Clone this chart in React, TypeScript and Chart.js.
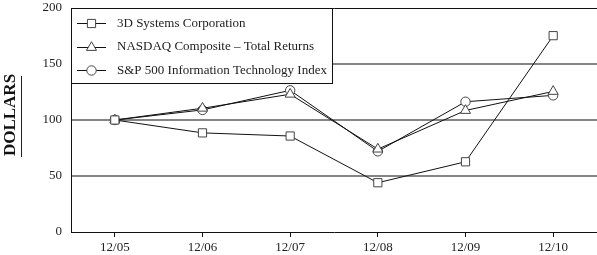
import React, { useEffect, useRef } from "react";
import { Chart, registerables } from "chart.js";

Chart.register(...registerables);

const categories = ["12/05", "12/06", "12/07", "12/08", "12/09", "12/10"];
const threeD = [100, 88.5, 85.7, 44, 62.7, 175.3];
const nasdaq = [100, 110.5, 123, 74, 108.5, 125.5];
const sp500 = [100, 109, 126.5, 72, 116.3, 122];
const seriesNames = [
  "3D Systems Corporation",
  "NASDAQ Composite \u2013 Total Returns",
  "S&P 500 Information Technology Index",
];
const yTicks = [0, 50, 100, 150, 200];
const yTitle = "DOLLARS";

const FONT = "'Liberation Serif', 'DejaVu Serif', serif";

function drawMarker(ctx: CanvasRenderingContext2D, style: string, x: number, y: number) {
  ctx.save();
  ctx.fillStyle = "#ffffff";
  ctx.strokeStyle = "#444444";
  ctx.lineWidth = 1;
  ctx.beginPath();
  if (style === "rect") {
    const s = 4.1;
    ctx.rect(x - s, y - s, 2 * s, 2 * s);
  } else if (style === "triangle") {
    const r = 5.8;
    ctx.moveTo(x, y - r);
    ctx.lineTo(x + r * Math.sin((2 * Math.PI) / 3), y + r * 0.5);
    ctx.lineTo(x - r * Math.sin((2 * Math.PI) / 3), y + r * 0.5);
    ctx.closePath();
  } else {
    ctx.arc(x, y, 4.7, 0, Math.PI * 2);
  }
  ctx.fill();
  ctx.stroke();
  ctx.restore();
}

const overlayPlugin = {
  id: "overlay",
  afterDraw(chart: any) {
    const ctx: CanvasRenderingContext2D = chart.ctx;
    const area = chart.chartArea;
    ctx.save();
    ctx.fillStyle = "#111";
    ctx.font = `bold 17px ${FONT}`;
    ctx.translate(15, 115);
    ctx.rotate(-Math.PI / 2);
    ctx.textAlign = "center";
    ctx.textBaseline = "alphabetic";
    ctx.fillText(yTitle, 0, 0);
    ctx.restore();
    ctx.save();
    ctx.strokeStyle = "#222";
    ctx.lineWidth = 1;
    ctx.beginPath();
    ctx.moveTo(21.5, 76);
    ctx.lineTo(21.5, 157);
    ctx.stroke();
    ctx.restore();

    const bx = Math.round(area.left) + 0.5;
    const by = Math.round(area.top) + 0.5;
    const bw = 261;
    const bh = 75;
    ctx.save();
    ctx.fillStyle = "#ffffff";
    ctx.fillRect(bx, by, bw, bh);
    ctx.strokeStyle = "#111";
    ctx.lineWidth = 1;
    ctx.strokeRect(bx, by, bw, bh);
    const rows = [15, 38.5, 62];
    const styles = ["rect", "triangle", "circle"];
    chart.data.datasets.forEach((ds: any, i: number) => {
      const y = area.top + rows[i];
      ctx.strokeStyle = "#111";
      ctx.lineWidth = 1;
      ctx.beginPath();
      ctx.moveTo(area.left + 6, Math.round(y) + 0.5);
      ctx.lineTo(area.left + 35, Math.round(y) + 0.5);
      ctx.stroke();
      drawMarker(ctx, styles[i], area.left + 20.5, Math.round(y) + 0.5);
      ctx.fillStyle = "#222";
      ctx.font = `13px ${FONT}`;
      ctx.textAlign = "left";
      ctx.textBaseline = "middle";
      ctx.fillText(ds.label, area.left + 46, y + 0.5);
    });
    ctx.restore();
  },
};

export default function App() {
  const canvasRef = useRef<HTMLCanvasElement | null>(null);

  useEffect(() => {
    document.body.style.margin = "0";
    const canvas = canvasRef.current;
    if (!canvas) return;
    const common = {
      borderColor: "#111111",
      borderWidth: 1,
      pointBackgroundColor: "#ffffff",
      pointBorderColor: "#444444",
      pointBorderWidth: 1,
      tension: 0,
      fill: false,
      clip: false as any,
    };
    const chart = new Chart(canvas, {
      type: "line",
      data: {
        labels: categories,
        datasets: [
          { ...common, label: seriesNames[0], data: threeD, pointStyle: "rect", pointRadius: 5.8 },
          { ...common, label: seriesNames[1], data: nasdaq, pointStyle: "triangle", pointRadius: 5.8 },
          { ...common, label: seriesNames[2], data: sp500, pointStyle: "circle", pointRadius: 4.7 },
        ],
      },
      options: {
        animation: false,
        responsive: false,
        maintainAspectRatio: false,
        layout: { padding: { top: 8, right: 0, bottom: 0, left: 0 }, autoPadding: false },
        plugins: {
          legend: { display: false },
          tooltip: { enabled: false },
        },
        scales: {
          x: {
            type: "category",
            offset: true,
            grid: {
              offset: false,
              drawOnChartArea: false,
              drawTicks: true,
              tickLength: 5,
              color: "#111",
            },
            border: { display: true, color: "#111", width: 1 },
            ticks: {
              color: "#222",
              font: { family: FONT, size: 13 },
              padding: 3,
              maxRotation: 0,
            },
            afterFit(scale: any) {
              scale.height = 23;
              scale.paddingLeft = 0;
              scale.paddingRight = 0;
            },
          },
          y: {
            min: 0,
            max: 200,
            afterBuildTicks(scale: any) {
              scale.ticks = yTicks.map((v) => ({ value: v }));
            },
            grid: {
              drawTicks: false,
              color: (c: any) =>
                c.tick && c.tick.value === 200
                  ? "#111"
                  : c.tick && c.tick.value === 0
                  ? "rgba(0,0,0,0)"
                  : "#858585",
              lineWidth: (c: any) => (c.tick && c.tick.value === 200 ? 1 : 2),
            },
            border: { display: true, color: "#111", width: 1 },
            ticks: {
              color: "#222",
              font: { family: FONT, size: 13 },
              padding: 9,
            },
            afterFit(scale: any) {
              scale.width = 71;
              scale.paddingTop = 0;
              scale.paddingBottom = 0;
            },
          },
        },
      },
      plugins: [overlayPlugin],
    });
    return () => chart.destroy();
  }, []);

  return (
    <div style={{ position: "absolute", left: 0, top: 0, width: 597, height: 255 }}>
      <canvas ref={canvasRef} width={597} height={255} style={{ width: 597, height: 255 }} />
    </div>
  );
}
